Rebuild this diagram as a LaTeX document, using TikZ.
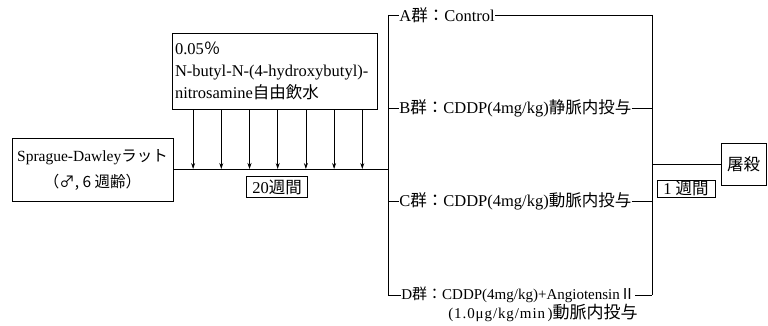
\documentclass[tikz,border=0pt]{standalone}
\usepackage{fontspec}
\setmainfont{Liberation Serif}
\newfontfamily\jp{Noto Sans CJK JP}
\usepackage{tikz}
\usetikzlibrary{arrows.meta, positioning, calc}

\tikzset{
  lbl/.style={font=\fontsize{16.5}{22}\selectfont, inner sep=0pt},
  small/.style={font=\fontsize{15}{18}\selectfont, inner sep=0pt},
  box/.style={draw, line width=0.8pt, inner sep=0pt, font=\fontsize{16.5}{22}\selectfont},
  feed/.style={-{Stealth[length=6pt, width=4pt]}, line width=0.8pt}
}

\begin{document}
\begin{tikzpicture}[x=1pt, y=-1pt, line width=0.8pt]
  \useasboundingbox (0,0) rectangle (768,326);

  % Rats and feeding
  \node[box, font=\fontsize{15.5}{22}\selectfont, minimum width=161pt, minimum height=63pt, align=center] (rat) at (92.5,169.5)
    {Sprague-Dawley{\jp ラット}\\[4pt]{\jp （♂, 6 週齢）}};
  \node[box, minimum width=205pt, minimum height=76pt, align=left, text width=199pt] (bbn) at (274.5,71)
    {0.05{\jp ％}\\N-butyl-N-(4-hydroxybutyl)-\\nitrosamine{\jp 自由飲水}};
  \coordinate (split) at (388,169);
  \draw (rat.east |- split) -- (split);
  \foreach \i in {0,...,6} {
    \path ([xshift={21.5pt+28.2pt*\i}]bbn.south west) coordinate (tap\i);
    \draw[feed] (tap\i) -- (tap\i |- split);
  }
  \node[box, minimum width=61pt, minimum height=21pt] (wk20) at (277,187) {20{\jp 週間}};

  % Groups
  \coordinate (lA) at (388,15);
  \coordinate (lD) at (388,295);
  \coordinate (rA) at (652,15);
  \coordinate (rD) at (652,295);
  \draw (lA) -- (lD);
  \draw (rA) -- (rD);

  \node[lbl, anchor=west] (grpA) at (399,15) {A{\jp 群：}Control};
  \node[lbl, anchor=west] (grpB) at (399,108) {B{\jp 群：}CDDP(4mg/kg){\jp 静脈内投与}};
  \node[lbl, anchor=west] (grpC) at (399,201) {C{\jp 群：}CDDP(4mg/kg){\jp 動脈内投与}};
  \node[small, anchor=west] (grpD) at (401,295) {D{\jp 群：}CDDP(4mg/kg)+Angiotensin{\jp Ⅱ}};
  \node[small, anchor=east] (grpD2) at (638,313)
    {{\addfontfeatures{LetterSpace=6}(1.0μg/kg/min\,)}{\jp\fontsize{17}{18}\selectfont 動脈内投与}};

  \foreach \g/\y in {A/15, B/108, C/201, D/295} {
    \draw (388,\y) -- (grp\g.west);
    \draw (grp\g.east) -- (grp\g.east -| rA);
  }

  % Sacrifice
  \node[box, minimum width=45pt, minimum height=42pt] (kill) at (743.5,164) {\jp 屠殺};
  \draw (rA |- kill) -- (kill.west);
  \node[box, minimum width=58pt, minimum height=17pt] (wk1) at (686,188.5) {1 {\jp 週間}};
\end{tikzpicture}
\end{document}
